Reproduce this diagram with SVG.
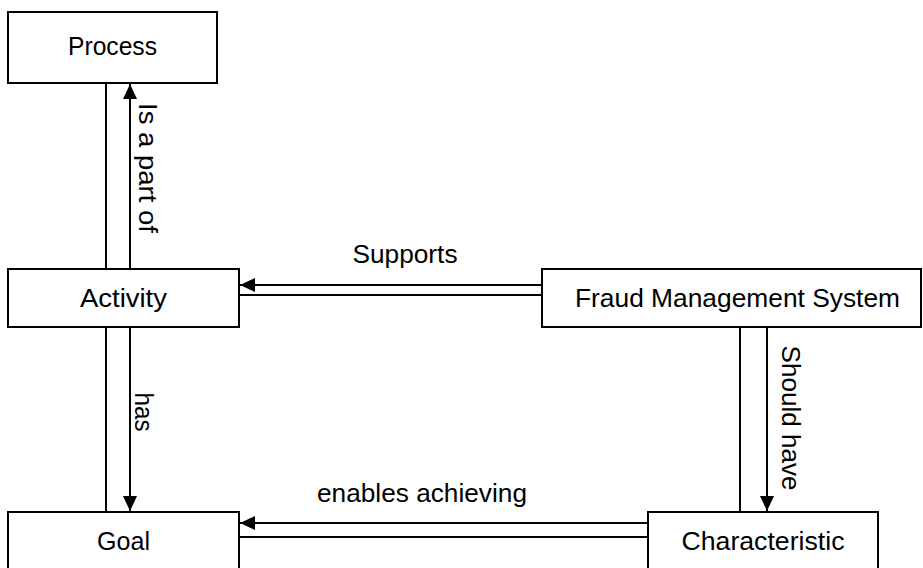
<svg xmlns="http://www.w3.org/2000/svg" width="923" height="568" viewBox="0 0 923 568">
<style>
.box{fill:#fff;stroke:#000;stroke-width:2}
.ln{fill:none;stroke:#000;stroke-width:2}
.arr{fill:none;stroke:#000;stroke-width:2;marker-end:url(#ah)}
text{font-family:"Liberation Sans",Arial,sans-serif;font-size:25px;fill:#000}
.c{text-anchor:middle}
</style>
<defs>
<marker id="ah" markerUnits="userSpaceOnUse" markerWidth="16" markerHeight="16" refX="15" refY="7" orient="auto">
<path d="M0,0 L15,7 L0,14 z" fill="#000"/>
</marker>
</defs>
<rect width="923" height="568" fill="#fff"/>
<g id="connectors">
<line class="ln" x1="106" y1="83" x2="106" y2="269"/>
<line class="arr" x1="130" y1="269" x2="130" y2="84"/>
<line class="ln" x1="106" y1="327" x2="106" y2="512"/>
<line class="arr" x1="130" y1="327" x2="130" y2="511"/>
<line class="arr" x1="542" y1="285" x2="240" y2="285"/>
<line class="ln" x1="239" y1="295" x2="542" y2="295"/>
<line class="ln" x1="740" y1="327" x2="740" y2="512"/>
<line class="arr" x1="767" y1="327" x2="767" y2="511"/>
<line class="arr" x1="648" y1="523" x2="240" y2="523"/>
<line class="ln" x1="239" y1="537" x2="648" y2="537"/>
<text class="c" x="405" y="263" textLength="105" lengthAdjust="spacingAndGlyphs">Supports</text>
<text class="c" x="422" y="502" textLength="210" lengthAdjust="spacingAndGlyphs">enables achieving</text>
<text class="c" transform="translate(139,168) rotate(90)" textLength="130" lengthAdjust="spacingAndGlyphs">Is a part of</text>
<text class="c" transform="translate(135,412) rotate(90)" textLength="39" lengthAdjust="spacingAndGlyphs">has</text>
<text class="c" transform="translate(782,418) rotate(90)" textLength="145" lengthAdjust="spacingAndGlyphs">Should have</text>
</g>
<g id="process">
<rect class="box" x="8" y="12" width="209" height="71"/>
<text class="c" x="112.5" y="55" textLength="89" lengthAdjust="spacingAndGlyphs">Process</text>
</g>
<g id="activity">
<rect class="box" x="8" y="269" width="231" height="58"/>
<text class="c" x="123.5" y="307" textLength="87" lengthAdjust="spacingAndGlyphs">Activity</text>
</g>
<g id="fms">
<rect class="box" x="542" y="269" width="379" height="58"/>
<text class="c" x="737.5" y="307" textLength="325" lengthAdjust="spacingAndGlyphs">Fraud Management System</text>
</g>
<g id="goal">
<rect class="box" x="8" y="512" width="231" height="60"/>
<text class="c" x="123.5" y="550" textLength="53" lengthAdjust="spacingAndGlyphs">Goal</text>
</g>
<g id="characteristic">
<rect class="box" x="648" y="512" width="230" height="60"/>
<text class="c" x="763" y="550" textLength="163" lengthAdjust="spacingAndGlyphs">Characteristic</text>
</g>
</svg>
